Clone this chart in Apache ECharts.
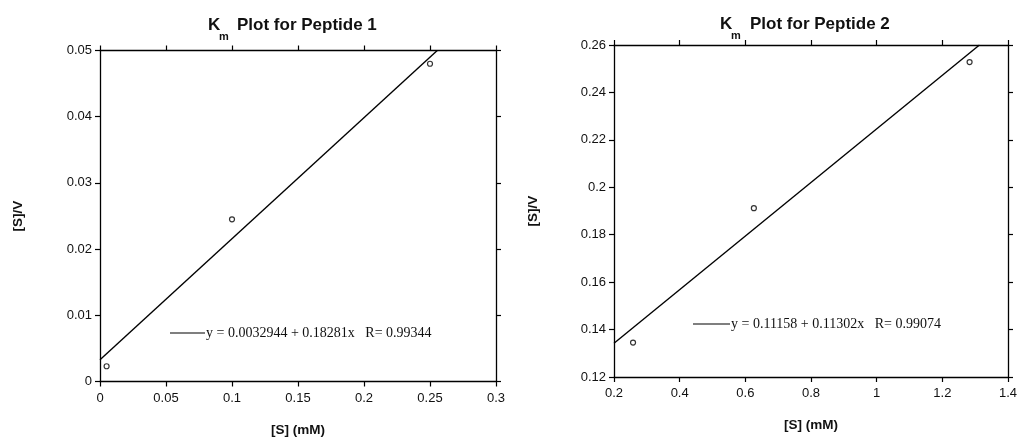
<!DOCTYPE html>
<html>
<head>
<meta charset="utf-8">
<script src="https://cdn.jsdelivr.net/npm/echarts@6/dist/echarts.min.js"></script>
<style>
html,body{margin:0;padding:0;background:#fff;}
#c{width:1017px;height:438px;}
</style>
</head>
<body>
<div id="c"></div>
<script>
// ---- data ----
const titles1 = ['K', 'm', 'Plot for Peptide 1'];
const titles2 = ['K', 'm', 'Plot for Peptide 2'];
const xName = '[S] (mM)';
const yName = '[S]/V';
const p1x = [0.005, 0.1, 0.25];
const p1y = [0.0023, 0.0245, 0.048];
const p2x = [0.258, 0.626, 1.283];
const p2y = [0.1345, 0.1912, 0.2528];
const fit1x = [0, 0.2555];
const fit1y = [0.0033, 0.05];
const fit2x = [0.2, 1.313];
const fit2y = [0.1342, 0.26];
const eq1 = 'y = 0.0032944 + 0.18281x   R= 0.99344';
const eq2 = 'y = 0.11158 + 0.11302x   R= 0.99074';
const x1Ticks = { min: 0, max: 0.3, interval: 0.05 };
const y1Ticks = { min: 0, max: 0.05, interval: 0.01 };
const x2Ticks = { min: 0.2, max: 1.4, interval: 0.2 };
const y2Ticks = { min: 0.12, max: 0.26, interval: 0.02 };

const zip = (a, b) => a.map((v, i) => [v, b[i]]);
const fmt = v => String(+v.toFixed(4));
const sans = 'Liberation Sans, Arial, sans-serif';
const serif = 'Liberation Serif, Times New Roman, serif';

function axisBase(t, pos, showLabel, gi, extra, margin) {
  return Object.assign({
    type: 'value', gridIndex: gi, position: pos,
    min: t.min, max: t.max, interval: t.interval,
    axisLine: { show: true, onZero: false, lineStyle: { color: '#000', width: 1.3 } },
    axisTick: { show: true, inside: false, length: 5, lineStyle: { color: '#000', width: 1.2 } },
    axisLabel: { show: showLabel, color: '#111', fontFamily: sans, fontSize: 13, margin: margin || 8, formatter: fmt },
    splitLine: { show: false }
  }, extra || {});
}
const nameStyle = { fontFamily: sans, fontWeight: 'bold', fontSize: 13.5, color: '#111' };

const chart = echarts.init(document.getElementById('c'));
chart.setOption({
  backgroundColor: '#fff',
  animation: false,
  title: [
    { text: titles1[0], left: 208, top: 17, padding: 0, textStyle: { fontFamily: sans, fontWeight: 'bold', fontSize: 17, color: '#111' } },
    { text: titles1[1], left: 219, top: 31, padding: 0, textStyle: { fontFamily: sans, fontWeight: 'bold', fontSize: 11, color: '#111' } },
    { text: titles1[2], left: 237, top: 17, padding: 0, textStyle: { fontFamily: sans, fontWeight: 'bold', fontSize: 17, color: '#111' } },
    { text: titles2[0], left: 720, top: 16, padding: 0, textStyle: { fontFamily: sans, fontWeight: 'bold', fontSize: 17, color: '#111' } },
    { text: titles2[1], left: 731, top: 30, padding: 0, textStyle: { fontFamily: sans, fontWeight: 'bold', fontSize: 11, color: '#111' } },
    { text: titles2[2], left: 750, top: 16, padding: 0, textStyle: { fontFamily: sans, fontWeight: 'bold', fontSize: 17, color: '#111' } }
  ],
  grid: [
    { left: 100, right: 521, top: 50.5, bottom: 56.5, outerBoundsMode: 'none', containLabel: false },
    { left: 614, right: 9, top: 45, bottom: 61, outerBoundsMode: 'none', containLabel: false }
  ],
  xAxis: [
    axisBase(x1Ticks, 'bottom', true, 0, { name: xName, nameLocation: 'middle', nameGap: 42, nameTextStyle: nameStyle }, 10),
    axisBase(x1Ticks, 'top', false, 0),
    axisBase(x2Ticks, 'bottom', true, 1, { name: xName, nameLocation: 'middle', nameGap: 41, nameTextStyle: nameStyle }, 10),
    axisBase(x2Ticks, 'top', false, 1)
  ],
  yAxis: [
    axisBase(y1Ticks, 'left', true, 0, { name: yName, nameLocation: 'middle', nameGap: 75, nameRotate: 90, nameTextStyle: nameStyle }),
    axisBase(y1Ticks, 'right', false, 0),
    axisBase(y2Ticks, 'left', true, 1, { name: yName, nameLocation: 'middle', nameGap: 74, nameRotate: 90, nameTextStyle: nameStyle }),
    axisBase(y2Ticks, 'right', false, 1)
  ],
  series: [
    { type: 'line', xAxisIndex: 0, yAxisIndex: 0, data: zip(fit1x, fit1y), showSymbol: false,
      lineStyle: { color: '#000', width: 1.4 }, z: 2 },
    { type: 'scatter', xAxisIndex: 0, yAxisIndex: 0, data: zip(p1x, p1y), symbol: 'circle', symbolSize: 5,
      itemStyle: { color: '#fff', borderColor: '#000', borderWidth: 1.2 }, z: 3 },
    { type: 'line', xAxisIndex: 2, yAxisIndex: 2, data: zip(fit2x, fit2y), showSymbol: false,
      lineStyle: { color: '#000', width: 1.4 }, z: 2 },
    { type: 'scatter', xAxisIndex: 2, yAxisIndex: 2, data: zip(p2x, p2y), symbol: 'circle', symbolSize: 5,
      itemStyle: { color: '#fff', borderColor: '#000', borderWidth: 1.2 }, z: 3 }
  ],
  graphic: [
    { type: 'line', shape: { x1: 170, y1: 333, x2: 205, y2: 333 }, style: { stroke: '#000', lineWidth: 1.2 } },
    { type: 'text', x: 206, y: 333, style: { text: eq1, fontFamily: serif, fontSize: 14, fill: '#111', verticalAlign: 'middle' } },
    { type: 'line', shape: { x1: 693, y1: 324, x2: 730, y2: 324 }, style: { stroke: '#000', lineWidth: 1.2 } },
    { type: 'text', x: 731, y: 324, style: { text: eq2, fontFamily: serif, fontSize: 14, fill: '#111', verticalAlign: 'middle' } }
  ]
});
</script>
</body>
</html>
